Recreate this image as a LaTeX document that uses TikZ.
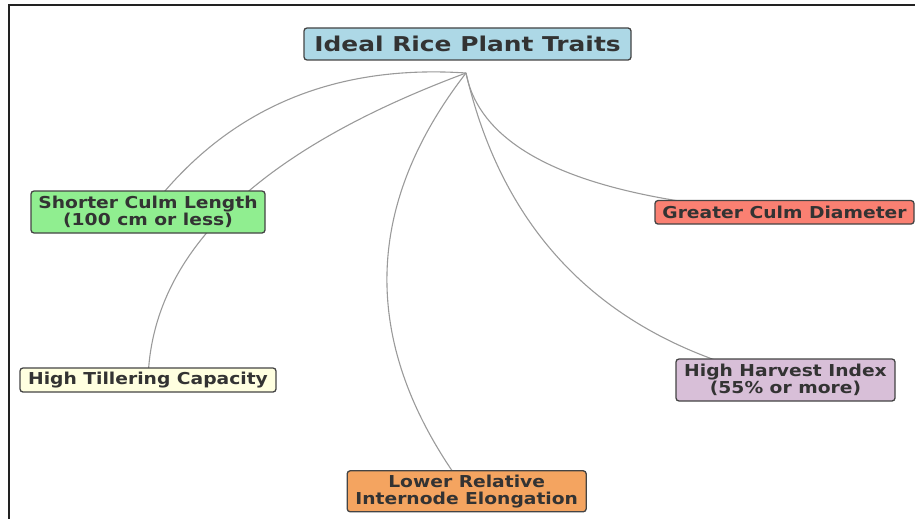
\documentclass[tikz,border=0pt]{standalone}
\usepackage{fontspec}
\newfontfamily\nodefont{DejaVu Sans}[FakeStretch=1.14]
\newfontfamily\titlefont{DejaVu Sans}[FakeStretch=1.22]
\usetikzlibrary{backgrounds,calc}
\definecolor{txt}{HTML}{333333}
\definecolor{edgec}{HTML}{444444}
\definecolor{linkc}{HTML}{9A9A9A}
\definecolor{framec}{HTML}{222222}
\definecolor{titleblue}{HTML}{ADD8E6}
\definecolor{lgreen}{HTML}{90EE90}
\definecolor{salmonc}{HTML}{FA8072}
\definecolor{lyellow}{HTML}{FFFFE0}
\definecolor{thistlec}{HTML}{D8BFD8}
\definecolor{sandy}{HTML}{F4A460}
\begin{document}
\begin{tikzpicture}[x=1pt,y=-1pt,
  box/.style={draw=edgec, line width=1.3pt, rounded corners=3pt, text=txt,
    inner sep=0pt, align=center,
    font=\nodefont\bfseries\fontsize{16.4}{17}\selectfont},
  link/.style={draw=linkc, line width=1.1pt},
  frameline/.style={draw=framec, line width=2pt}]
\useasboundingbox (0,0) rectangle (915,519);
\coordinate (fbl) at (9,519);
\coordinate (ftl) at (9,5);
\coordinate (ftr) at (915,5);
\draw[frameline] (fbl) -- (ftl) -- (ftr);

\node[box, fill=titleblue, minimum width=327pt, minimum height=32pt,
  font=\titlefont\bfseries\fontsize{20.4}{23}\selectfont] (title) at (467.5,44) {Ideal Rice Plant Traits};
\coordinate (hub) at (466,73);
\node[box, fill=lgreen, minimum width=234pt, minimum height=42pt] (culm) at (148,212) {Shorter Culm Length\\(100 cm or less)};
\node[box, fill=salmonc, minimum width=259pt, minimum height=23.5pt] (diam) at (784.5,212.3) {Greater Culm Diameter};
\node[box, fill=lyellow, minimum width=256pt, minimum height=24pt] (till) at (148,380) {High Tillering Capacity};
\node[box, fill=thistlec, minimum width=219pt, minimum height=42pt] (hi) at (785.5,380) {High Harvest Index\\(55\% or more)};
\node[box, fill=sandy, minimum width=239pt, minimum height=41pt] (inter) at (466.7,491.3) {Lower Relative\\Internode Elongation};

\begin{pgfonlayer}{background}
\draw[link] (hub) .. controls ($(hub)!0.6667!(263,59.5)$) and ($(culm.center)!0.6667!(263,59.5)$) .. (culm.center);
\draw[link] (hub) .. controls ($(hub)!0.6667!(153,189.5)$) and ($(till.center)!0.6667!(153,189.5)$) .. (till.center);
\draw[link] (hub) .. controls ($(hub)!0.6667!(307.5,278)$) and ($(inter.center)!0.6667!(307.5,278)$) .. (inter.center);
\draw[link] (hub) .. controls ($(hub)!0.6667!(524.5,324)$) and ($(hi.center)!0.6667!(524.5,324)$) .. (hi.center);
\draw[link] (hub) .. controls ($(hub)!0.6667!(489,193.5)$) and ($(diam.center)!0.6667!(489,193.5)$) .. (diam.center);
\end{pgfonlayer}
\end{tikzpicture}
\end{document}
